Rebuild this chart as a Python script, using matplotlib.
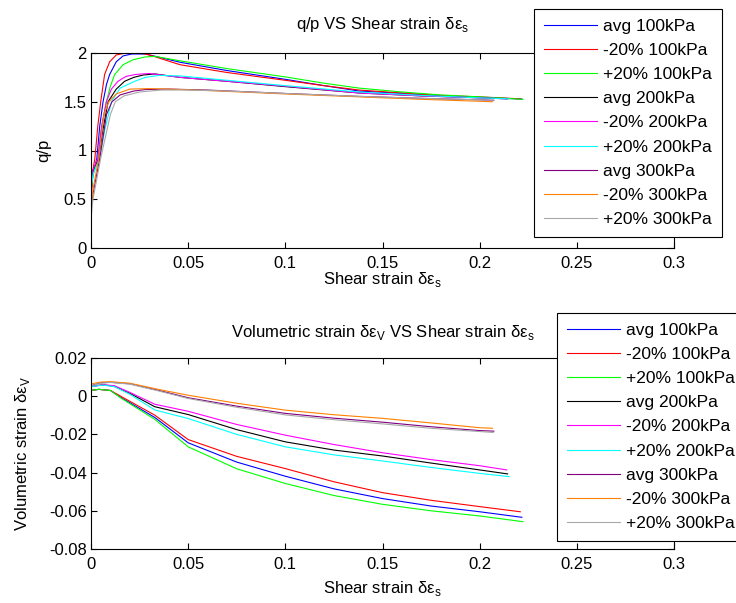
import numpy as np
import matplotlib
matplotlib.use("Agg")
import matplotlib.pyplot as plt

plt.rcParams['font.family'] = ['Liberation Sans', 'DejaVu Sans']
plt.rcParams['font.size'] = 12
plt.rcParams['mathtext.fontset'] = 'custom'
plt.rcParams['mathtext.rm'] = 'Liberation Sans'

labels = ["avg 100kPa", "-20% 100kPa", "+20% 100kPa",
          "avg 200kPa", "-20% 200kPa", "+20% 200kPa",
          "avg 300kPa", "-20% 300kPa", "+20% 300kPa"]

# q/p vs shear strain
qp_x_avg100 = [0, 0.001, 0.003, 0.0045, 0.0062, 0.008, 0.0096, 0.013, 0.0165, 0.021, 0.028, 0.0458, 0.07, 0.1, 0.12, 0.138, 0.16, 0.18, 0.2, 0.2217]
qp_y_avg100 = [0.55, 0.75, 0.92, 1.25, 1.5, 1.68, 1.78, 1.91, 1.97, 1.99, 1.99, 1.905, 1.82, 1.73, 1.665, 1.61, 1.585, 1.56, 1.545, 1.528]
qp_x_m20_100 = [0, 0.001, 0.002, 0.0035, 0.005, 0.007, 0.0096, 0.013, 0.018, 0.025, 0.03, 0.0458, 0.07, 0.1, 0.12, 0.138, 0.16, 0.18, 0.2, 0.2209]
qp_y_m20_100 = [0.5, 0.8, 0.92, 1.25, 1.5, 1.78, 1.91, 1.98, 2.0, 2.0, 1.98, 1.88, 1.8, 1.72, 1.665, 1.62, 1.59, 1.565, 1.55, 1.53]
qp_x_p20_100 = [0, 0.001, 0.0036, 0.0055, 0.0079, 0.01, 0.0122, 0.0165, 0.0216, 0.028, 0.033, 0.0458, 0.07, 0.1, 0.12, 0.138, 0.16, 0.18, 0.2, 0.2223]
qp_y_p20_100 = [0.6, 0.75, 0.92, 1.25, 1.5, 1.66, 1.78, 1.88, 1.93, 1.96, 1.965, 1.92, 1.84, 1.755, 1.69, 1.64, 1.6, 1.57, 1.55, 1.525]
qp_x_avg200 = [0, 0.001, 0.004, 0.006, 0.0088, 0.013, 0.0173, 0.022, 0.027, 0.033, 0.0458, 0.07, 0.1, 0.138, 0.17, 0.2, 0.2144]
qp_y_avg200 = [0.65, 0.8, 0.92, 1.2, 1.5, 1.63, 1.71, 1.75, 1.775, 1.785, 1.75, 1.71, 1.655, 1.59, 1.56, 1.54, 1.53]
qp_x_m20_200 = [0, 0.001, 0.0035, 0.0055, 0.0079, 0.0105, 0.0139, 0.018, 0.023, 0.03, 0.0458, 0.07, 0.1, 0.138, 0.17, 0.2, 0.2139]
qp_y_m20_200 = [0.7, 0.8, 0.92, 1.25, 1.5, 1.63, 1.71, 1.76, 1.78, 1.79, 1.75, 1.71, 1.66, 1.59, 1.56, 1.54, 1.53]
qp_x_p20_200 = [0, 0.001, 0.0045, 0.007, 0.0105, 0.015, 0.0225, 0.028, 0.035, 0.0458, 0.07, 0.1, 0.138, 0.17, 0.2, 0.2152]
qp_y_p20_200 = [0.6, 0.75, 0.92, 1.2, 1.5, 1.64, 1.71, 1.75, 1.77, 1.765, 1.72, 1.665, 1.6, 1.565, 1.54, 1.53]
qp_x_avg300 = [0, 0.001, 0.0045, 0.008, 0.0108, 0.015, 0.022, 0.028, 0.04, 0.06, 0.1, 0.138, 0.17, 0.2, 0.2073]
qp_y_avg300 = [0.4, 0.55, 0.92, 1.37, 1.5, 1.57, 1.61, 1.625, 1.63, 1.62, 1.585, 1.555, 1.535, 1.52, 1.515]
qp_x_m20_300 = [0, 0.001, 0.004, 0.0067, 0.0092, 0.013, 0.02, 0.03, 0.04, 0.06, 0.1, 0.138, 0.17, 0.2, 0.2066]
qp_y_m20_300 = [0.4, 0.6, 0.92, 1.37, 1.5, 1.58, 1.63, 1.635, 1.63, 1.615, 1.58, 1.55, 1.525, 1.505, 1.5]
qp_x_p20_300 = [0, 0.001, 0.005, 0.01, 0.0125, 0.017, 0.025, 0.036, 0.05, 0.07, 0.1, 0.138, 0.17, 0.2, 0.207]
qp_y_p20_300 = [0.3, 0.5, 0.92, 1.37, 1.5, 1.56, 1.6, 1.62, 1.62, 1.61, 1.585, 1.555, 1.535, 1.52, 1.515]

# volumetric strain vs shear strain
ev_x_100 = [0, 0.004, 0.01, 0.0156, 0.0328, 0.05, 0.075, 0.1, 0.125, 0.15, 0.175, 0.2]
ev_y_avg100 = [0.003, 0.0036, 0.003, -0.0008, -0.0111, -0.0244, -0.0345, -0.0419, -0.0485, -0.0536, -0.0575, -0.0605, -0.0634]
ev_y_m20_100 = [0.003, 0.0036, 0.003, -0.0002, -0.0099, -0.0227, -0.0315, -0.0379, -0.0448, -0.0505, -0.0545, -0.0578, -0.0605]
ev_y_p20_100 = [0.003, 0.0036, 0.003, -0.0011, -0.0121, -0.0265, -0.038, -0.0457, -0.052, -0.0566, -0.06, -0.0627, -0.0657]
ev_x_200 = [0, 0.006, 0.012, 0.02, 0.0328, 0.05, 0.075, 0.1, 0.125, 0.15, 0.175, 0.2]
ev_y_avg200 = [0.005, 0.006, 0.0052, 0.0015, -0.0055, -0.0096, -0.0175, -0.0239, -0.0282, -0.0313, -0.035, -0.0386, -0.0407]
ev_y_m20_200 = [0.005, 0.006, 0.0055, 0.002, -0.0042, -0.0079, -0.0148, -0.0204, -0.0253, -0.0296, -0.0332, -0.0364, -0.0386]
ev_y_p20_200 = [0.005, 0.0058, 0.005, 0.001, -0.0072, -0.0117, -0.02, -0.0265, -0.0307, -0.0339, -0.0373, -0.0404, -0.0421]
ev_x_300 = [0, 0.005, 0.01, 0.02, 0.035, 0.05, 0.075, 0.1, 0.125, 0.15, 0.175, 0.2]
ev_y_avg300 = [0.0055, 0.007, 0.0073, 0.0065, 0.003, -0.0008, -0.0052, -0.009, -0.0115, -0.0136, -0.016, -0.018, -0.0183]
ev_y_m20_300 = [0.0064, 0.0074, 0.0076, 0.0068, 0.0035, 0.0005, -0.0037, -0.0073, -0.0097, -0.0116, -0.014, -0.0165, -0.0168]
ev_y_p20_300 = [0.0055, 0.0068, 0.0072, 0.0063, 0.0027, -0.0012, -0.0058, -0.0098, -0.0123, -0.0145, -0.0168, -0.0185, -0.019]
# last shear strain of each test
end_strain = [0.2217, 0.2209, 0.2223, 0.2144, 0.2139, 0.2152, 0.2073, 0.2066, 0.207]

xticks = [0, 0.05, 0.1, 0.15, 0.2, 0.25, 0.3]
xtick_labels = ["0", "0.05", "0.1", "0.15", "0.2", "0.25", "0.3"]
qp_ticks = [0, 0.5, 1, 1.5, 2]
qp_tick_labels = ["0", "0.5", "1", "1.5", "2"]
ev_ticks = [-0.08, -0.06, -0.04, -0.02, 0, 0.02]
ev_tick_labels = ["-0.08", "-0.06", "-0.04", "-0.02", "0", "0.02"]

colors = ['#0000ff', '#ff0000', '#00ff00', '#000000', '#ff00ff', '#00ffff',
          '#800080', '#ff8000', '#a8a8a8']

qp_x = [qp_x_avg100, qp_x_m20_100, qp_x_p20_100, qp_x_avg200, qp_x_m20_200,
        qp_x_p20_200, qp_x_avg300, qp_x_m20_300, qp_x_p20_300]
qp_y = [qp_y_avg100, qp_y_m20_100, qp_y_p20_100, qp_y_avg200, qp_y_m20_200,
        qp_y_p20_200, qp_y_avg300, qp_y_m20_300, qp_y_p20_300]
ev_xs = [ev_x_100] * 3 + [ev_x_200] * 3 + [ev_x_300] * 3
ev_y = [ev_y_avg100, ev_y_m20_100, ev_y_p20_100, ev_y_avg200, ev_y_m20_200,
        ev_y_p20_200, ev_y_avg300, ev_y_m20_300, ev_y_p20_300]

W, H = 736, 603
fig = plt.figure(figsize=(W / 100, H / 100), dpi=100)
ax1 = fig.add_axes([91 / W, 1 - 248 / H, 583 / W, 195 / H])
ax2 = fig.add_axes([91 / W, 1 - 549 / H, 583 / W, 191 / H])

sub_s = r"$_\mathrm{s}$"
sub_v = r"$_\mathrm{V}$"

lines1 = []
for i in range(9):
    l, = ax1.plot(qp_x[i], qp_y[i], color=colors[i], lw=0.8)
    lines1.append(l)
lines2 = []
for i in range(9):
    xs = list(ev_xs[i]) + [end_strain[i]]
    l, = ax2.plot(xs, ev_y[i], color=colors[i], lw=0.8)
    lines2.append(l)

for ax in (ax1, ax2):
    ax.set_xlim(0, 0.3)
    ax.set_xticks(xticks)
    ax.set_xticklabels(xtick_labels)
    ax.tick_params(direction='in', top=True, right=True, length=4, width=0.8,
                   labelsize=12)
    ax.tick_params(axis='x', pad=6)
    ax.tick_params(axis='y', pad=3)
    for sp in ax.spines.values():
        sp.set_linewidth(0.8)

ax1.set_xlabel("Shear strain δε" + sub_s, fontsize=12, labelpad=-1)
ax2.set_xlabel("Shear strain δε" + sub_s, fontsize=12, labelpad=4.6)

ax1.set_ylim(0, 2)
ax1.set_yticks(qp_ticks)
ax1.set_yticklabels(qp_tick_labels)
ax1.set_ylabel("q/p", fontsize=12, labelpad=9)
ax1.set_title("q/p VS Shear strain δε" + sub_s, fontsize=12, pad=17)

ax2.set_ylim(-0.08, 0.02)
ax2.set_yticks(ev_ticks)
ax2.set_yticklabels(ev_tick_labels)
ax2.set_ylabel("Volumetric strain δε" + sub_v, fontsize=12, labelpad=12)
ax2.set_title("Volumetric strain δε" + sub_v + " VS Shear strain δε" + sub_s,
              fontsize=12, pad=15)

leg_kw = dict(loc='upper left', borderaxespad=0, fancybox=False, framealpha=1,
              edgecolor='black', fontsize=12.5, handlelength=3.1, handletextpad=0.35,
              labelspacing=0.52, borderpad=0.55)
lg1 = fig.legend(lines1, labels, bbox_to_anchor=(534 / W, 1 - 9 / H), **leg_kw)
lg2 = fig.legend(lines2, labels, bbox_to_anchor=(557 / W, 1 - 313 / H), **leg_kw)
for lg in (lg1, lg2):
    lg.get_frame().set_linewidth(0.8)

fig.savefig("out.png", dpi=100)
